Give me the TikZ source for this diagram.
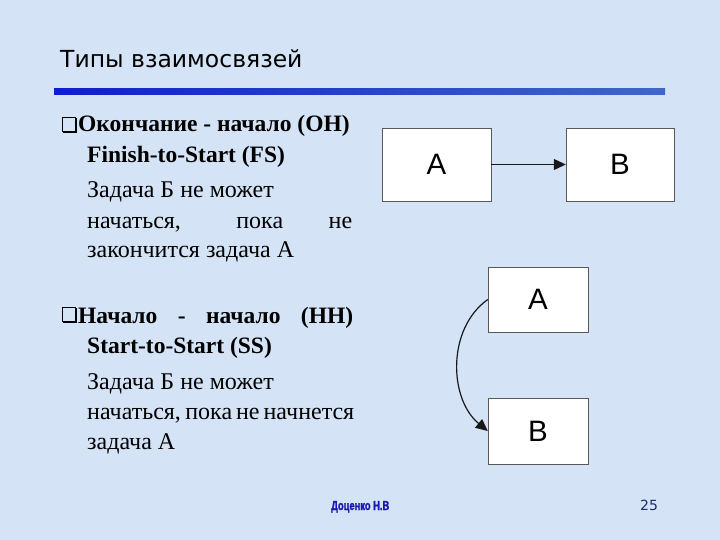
\documentclass[tikz,border=0pt]{standalone}
\usepackage{fontspec}
\setmainfont{Liberation Serif}
\newfontfamily\headfont{DejaVu Sans}
\newfontfamily\boxfont{Liberation Sans}
\newfontfamily\signfont[FakeStretch=0.72,FakeBold=1.5]{Liberation Sans}
\usetikzlibrary{arrows.meta}
\definecolor{slidebg}{RGB}{212,227,245}
\definecolor{barleft}{RGB}{14,30,210}
\definecolor{barright}{RGB}{62,104,200}
\definecolor{signblue}{RGB}{24,24,170}
\definecolor{numblue}{RGB}{30,42,110}
\begin{document}
\begin{tikzpicture}[x=1pt,y=-1pt,
  task/.style={draw=gray!70!black,fill=white,inner sep=0pt,font=\boxfont\fontsize{29.5}{29.5}\selectfont},
  link/.style={-{Triangle[length=12pt,width=11pt]},line width=1.2pt,black!90},
  hdr/.style={anchor=base west,inner sep=0pt,font=\fontsize{23.5}{23.5}\selectfont\bfseries},
  txt/.style={anchor=base west,inner sep=0pt,font=\fontsize{24}{24}\selectfont}]
\fill[slidebg] (0,0) rectangle (720,540);
\useasboundingbox (0,0) rectangle (720,540);
% title and bar
\node[anchor=base west,font=\headfont\fontsize{23.5}{23.5}\selectfont,inner sep=0pt] (title) at (60,68) {Типы взаимосвязей};
\shade[left color=barleft,right color=barright] (54,89) rectangle (665,95);
% bullets
\draw[line width=0.7pt] (62,117) rectangle (75,131);
\draw[line width=1.8pt] (76,118) -- (76,132.5) -- (63,132.5);
\draw[line width=0.7pt] (62,307) rectangle (75,321);
\draw[line width=1.8pt] (76,308) -- (76,322.5) -- (63,322.5);
% FS block
\node[hdr] (fs1) at (78,132) {Окончание - начало (ОН)};
\node[hdr] (fs2) at (87,163) {Finish-to-Start (FS)};
\node[txt] (fs3) at (87,198) {Задача Б не может};
\node[txt] (fs4) at (87,229) {\makebox[265pt][s]{начаться, пока не}};
\node[txt] (fs5) at (87,258) {закончится задача А};
% SS block
\node[hdr] (ss1) at (78,323) {\makebox[275pt][s]{Начало - начало (НН)}};
\node[hdr] (ss2) at (87,353) {Start-to-Start (SS)};
\node[txt] (ss3) at (87,389) {Задача Б не может};
\node[txt] (ss4) at (87,419) {\makebox[265pt][s]{начаться, пока не начнется}};
\node[txt] (ss5) at (87,449) {задача А};
% diagrams
\node[task,minimum width=109pt,minimum height=73pt] (fsA) at (436.5,164.5) {A};
\node[task,minimum width=108pt,minimum height=73pt] (fsB) at (620,164.5) {B};
\draw[link] (fsA.east) -- (fsB.west);
\node[task,minimum width=100pt,minimum height=65pt] (ssA) at (538,299.5) {A};
\node[task,minimum width=100pt,minimum height=66pt] (ssB) at (538,431) {B};
\draw[link] (ssA.west) .. controls +(-41,29) and +(-39,-32) .. (ssB.west);
% footer
\node[anchor=base west,inner sep=0pt,text=signblue,font=\signfont\bfseries\fontsize{13}{13}\selectfont] (sign) at (331,510) {Доценко Н.В};
\node[anchor=base west,inner sep=0pt,text=numblue,font=\headfont\fontsize{14}{14}\selectfont] (page) at (640,510) {25};
\end{tikzpicture}
\end{document}
